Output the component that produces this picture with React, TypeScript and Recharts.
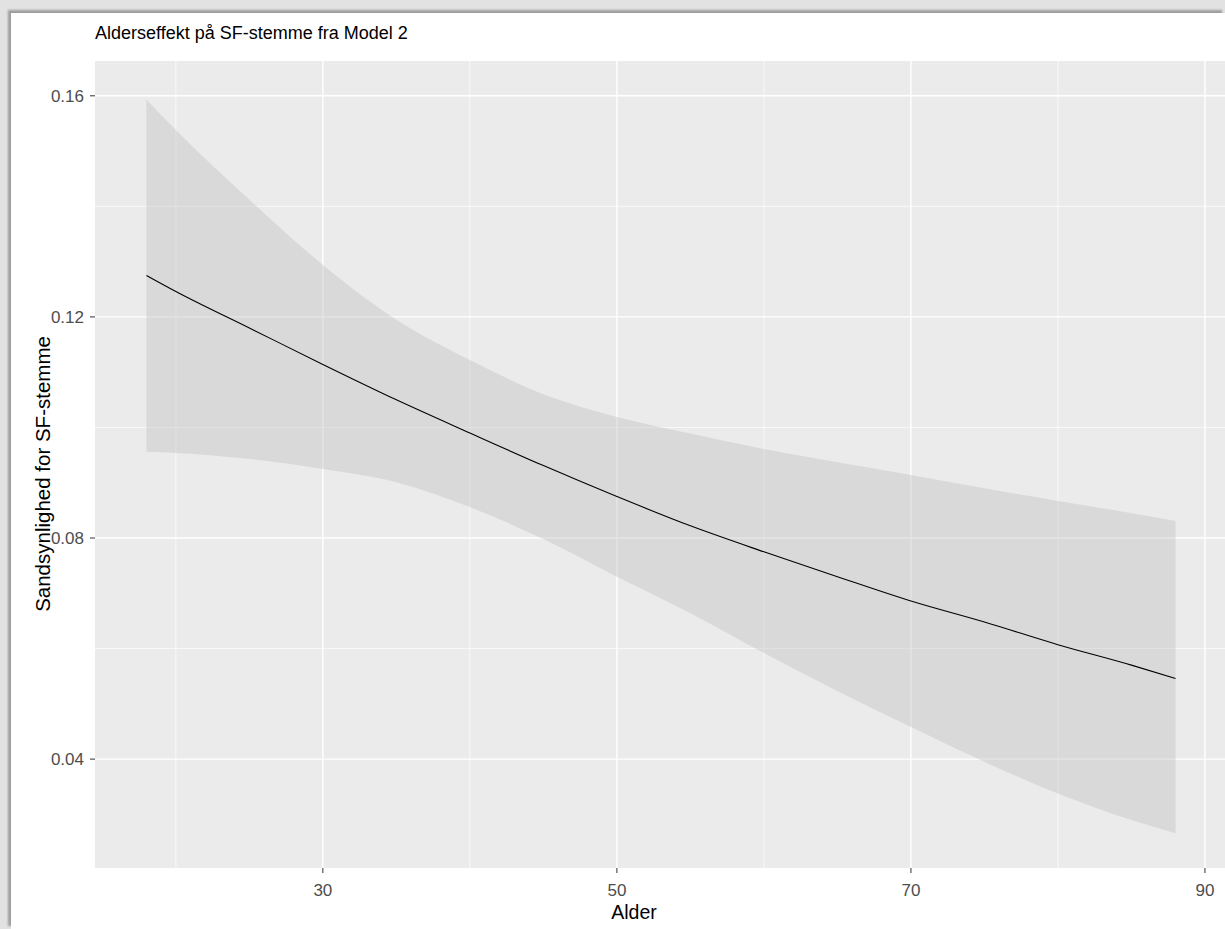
import { ComposedChart, Area, Line, XAxis, YAxis, CartesianGrid } from "recharts";

// alder (x) og estimater
const ages = [18, 20, 25, 30, 35, 40, 45, 50, 55, 60, 65, 70, 75, 80, 85, 88];
const fit = [0.1275, 0.1246, 0.118, 0.1114, 0.105, 0.099, 0.0931, 0.0875, 0.0822, 0.0775, 0.073, 0.0686, 0.0648, 0.0607, 0.057, 0.0546];
const lower = [0.0956, 0.0954, 0.0943, 0.0925, 0.0901, 0.0856, 0.0798, 0.073, 0.0664, 0.0592, 0.0523, 0.0458, 0.0395, 0.0338, 0.029, 0.0266];
const upper = [0.1593, 0.1538, 0.1412, 0.1294, 0.1195, 0.1122, 0.106, 0.1019, 0.0989, 0.0961, 0.0937, 0.0914, 0.089, 0.0867, 0.0845, 0.0831];

const xTicks = [30, 50, 70, 90];
const xMinor = [20, 40, 60, 80];
const yTicks = [0.04, 0.08, 0.12, 0.16];
const yMinor = [0.06, 0.1, 0.14];

const data = ages.map((alder, i) => ({
  alder,
  fit: fit[i],
  band: [lower[i], upper[i]],
}));

const font = '"Liberation Sans", Arial, sans-serif';
const tickStyle = { fill: "#4d4d4d", fontSize: 17, fontFamily: font };

export default function App() {
  return (
    <div
      style={{
        position: "absolute",
        left: 0,
        top: 0,
        width: 1225,
        height: 929,
        overflow: "hidden",
        background: "#e2e2e2",
      }}
    >
      <div
        style={{
          position: "absolute",
          left: 11,
          top: 13,
          right: 0,
          bottom: 0,
          background: "#fff",
          boxShadow: "-3px -3px 2px rgba(0,0,0,0.3)",
        }}
      />
      <div
        style={{
          position: "absolute",
          left: 95,
          top: 23,
          fontFamily: font,
          fontSize: 18,
          color: "#000",
          whiteSpace: "nowrap",
        }}
      >
        Alderseffekt på SF-stemme fra Model 2
      </div>
      <div
        style={{
          position: "absolute",
          left: 634,
          top: 901,
          transform: "translateX(-50%)",
          fontFamily: font,
          fontSize: 19.5,
          color: "#000",
          whiteSpace: "nowrap",
        }}
      >
        Alder
      </div>
      <div
        style={{
          position: "absolute",
          left: 43,
          top: 474,
          transform: "translate(-50%, -50%) rotate(-90deg)",
          fontFamily: font,
          fontSize: 20.5,
          color: "#000",
          whiteSpace: "nowrap",
        }}
      >
        Sandsynlighed for SF-stemme
      </div>
      <div style={{ position: "absolute", left: 0, top: 0 }}>
        <ComposedChart
          width={1227}
          height={929}
          data={data}
          margin={{ top: 61, right: 0, bottom: 0, left: 0 }}
        >
          <CartesianGrid
            fill="#ebebeb"
            stroke="#ffffff"
            strokeWidth={0.7}
            horizontalValues={yMinor}
            verticalValues={xMinor}
          />
          <CartesianGrid
            stroke="#ffffff"
            strokeWidth={1.4}
            horizontalValues={yTicks}
            verticalValues={xTicks}
          />
          <XAxis
            dataKey="alder"
            type="number"
            domain={[14.5, 91.5]}
            ticks={xTicks}
            allowDataOverflow
            height={61}
            axisLine={false}
            tickSize={5}
            tickMargin={11}
            tickLine={{ stroke: "#333" }}
            tick={tickStyle}
          />
          <YAxis
            type="number"
            domain={[0.0203, 0.1663]}
            ticks={yTicks}
            allowDataOverflow
            width={95}
            axisLine={false}
            tickSize={5}
            tickMargin={6}
            tickLine={{ stroke: "#333" }}
            tick={tickStyle}
            tickFormatter={(v: number) => v.toFixed(2)}
          />
          <Area
            dataKey="band"
            type="monotone"
            stroke="none"
            fill="#bebebe"
            fillOpacity={0.4}
            isAnimationActive={false}
          />
          <Line
            dataKey="fit"
            type="monotone"
            stroke="#000"
            strokeWidth={1.1}
            dot={false}
            isAnimationActive={false}
          />
        </ComposedChart>
      </div>
    </div>
  );
}
